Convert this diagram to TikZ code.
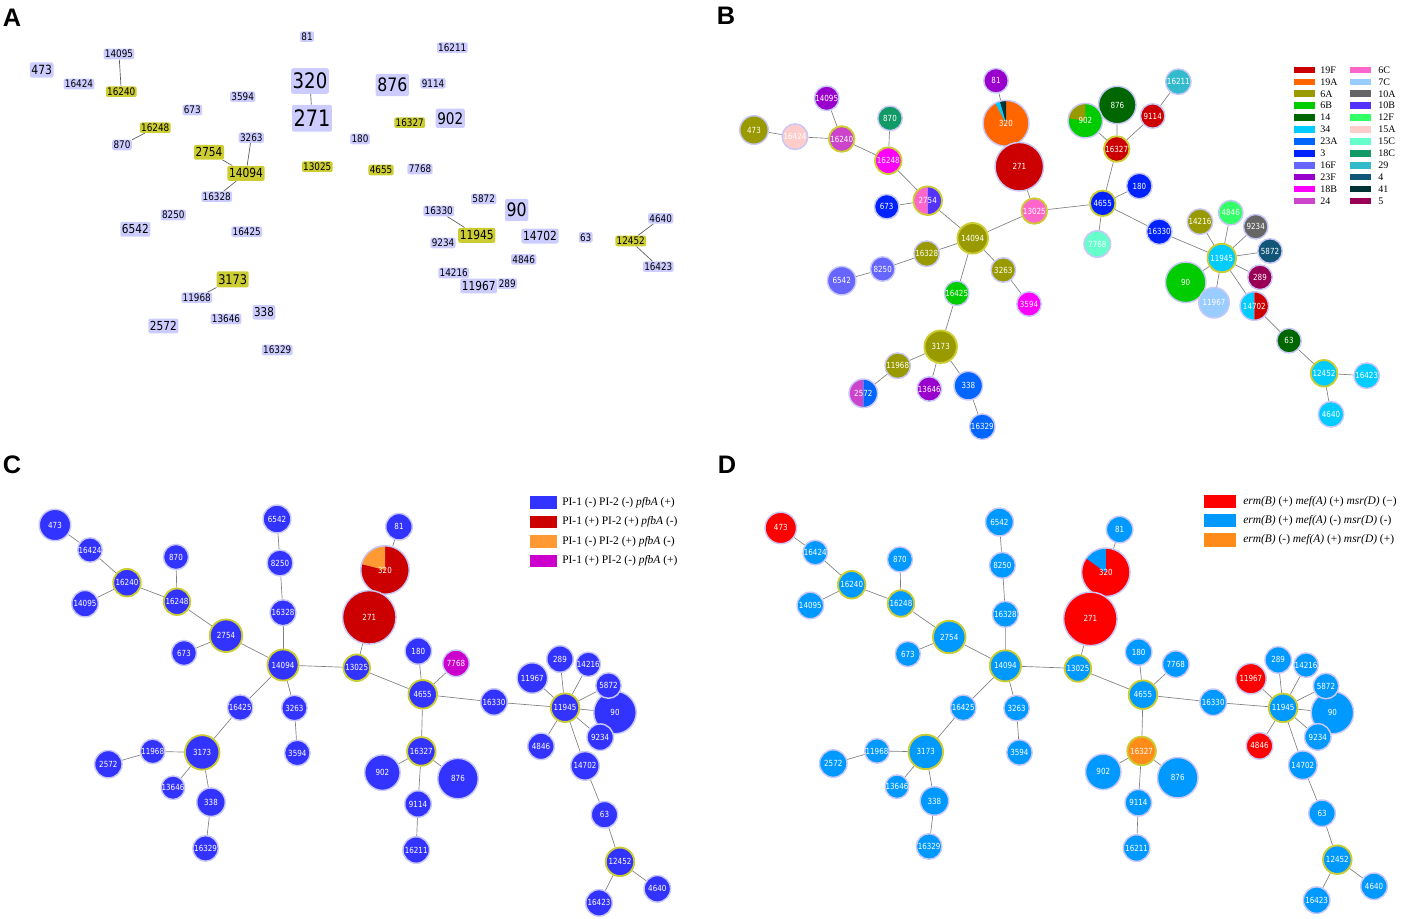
\documentclass[tikz,border=0pt]{standalone}
\usepackage{fontspec}
\setmainfont{Liberation Serif}
\newfontfamily\vfont[FakeStretch=0.85]{DejaVu Sans}
\newfontfamily\afont{Liberation Sans}
\pgfdeclarelayer{bg}
\pgfsetlayers{bg,main}
% panel A
\definecolor{lav}{HTML}{CCCCFF}
\definecolor{goldA}{HTML}{CCCC33}
\definecolor{ring}{HTML}{C8C8F8}
\definecolor{gring}{HTML}{CCCC33}
% serotypes
\definecolor{s19F}{HTML}{CC0000}
\definecolor{s19A}{HTML}{FF6600}
\definecolor{s6A}{HTML}{999900}
\definecolor{s6B}{HTML}{00CC00}
\definecolor{s14}{HTML}{006600}
\definecolor{s34}{HTML}{00CCFF}
\definecolor{s23A}{HTML}{0066FF}
\definecolor{s3}{HTML}{0022FF}
\definecolor{s16F}{HTML}{6666FF}
\definecolor{s23F}{HTML}{9900CC}
\definecolor{s18B}{HTML}{FF00FF}
\definecolor{s24}{HTML}{CC44CC}
\definecolor{s6C}{HTML}{FF66CC}
\definecolor{s7C}{HTML}{99CCFF}
\definecolor{s10A}{HTML}{666666}
\definecolor{s10B}{HTML}{5533FF}
\definecolor{s12F}{HTML}{33FF66}
\definecolor{s15A}{HTML}{FFCCCC}
\definecolor{s15C}{HTML}{66FFCC}
\definecolor{s18C}{HTML}{119966}
\definecolor{s29}{HTML}{33BBCC}
\definecolor{s4}{HTML}{115577}
\definecolor{s41}{HTML}{003333}
\definecolor{s5}{HTML}{990055}
% C and D
\definecolor{cBlue}{HTML}{3333FF}
\definecolor{cRed}{HTML}{CC0000}
\definecolor{cOrange}{HTML}{FF9933}
\definecolor{cMag}{HTML}{CC00CC}
\definecolor{dRed}{HTML}{FF0000}
\definecolor{dBlue}{HTML}{0099FF}
\definecolor{dOrange}{HTML}{FF8C1A}

\tikzset{
  lab/.style={fill=lav, rounded corners=1.5pt, inner xsep=1pt, inner ysep=1pt, text=black,
    font=\vfont\fontsize{7.8}{8}\selectfont},
  labb/.style={lab, inner xsep=1.2pt, inner ysep={#1*0.22pt}, font=\vfont\fontsize{#1}{#1}\selectfont},
  gl/.style={fill=goldA},
  edgeA/.style={draw=black!65, line width=0.5pt},
  bub/.style={circle, inner sep=0pt, minimum size={#1*1.5pt-1.1pt}, draw=ring, line width=1.1pt,
    text=white, font=\vfont\fontsize{6.3}{6.5}\selectfont},
  yr/.style={draw=gring, line width=1.4pt},
  edge/.style={draw=black!50, line width=0.5pt},
  panel/.style={font=\afont\bfseries\fontsize{19}{19}\selectfont, inner sep=0pt},
  swB/.style={minimum width=15.75pt, minimum height=5pt, inner sep=0pt},
  swC/.style={minimum width=20.25pt, minimum height=9.5pt, inner sep=0pt},
  swD/.style={minimum width=24pt, minimum height=10pt, inner sep=0pt},
  lgB/.style={anchor=west, inner sep=0pt, font=\fontsize{7.5}{8}\selectfont},
  lgC/.style={anchor=west, inner sep=0pt, font=\fontsize{8.6}{9}\selectfont},
}
\newcommand\pieslice[5]{\fill[#1] (#2) -- ++(#3:#5) arc[start angle=#3, end angle=#4, radius=#5] -- cycle;}

\newcommand\cdnet[8]{%
\node[bub=16.5,fill=#3] (#1473) at (55,525) {473};
\node[bub=13,fill=#2] (#116424) at (90,550) {16424};
\node[bub=14.5,fill=#2,yr] (#116240) at (127,582.7) {16240};
\node[bub=14,fill=#2] (#114095) at (85,603.7) {14095};
\node[bub=13.3,fill=#2] (#1870) at (176,557) {870};
\node[bub=14,fill=#2,yr] (#116248) at (177,601.7) {16248};
\node[bub=17,fill=#2,yr] (#12754) at (226,635.7) {2754};
\node[bub=13.3,fill=#2] (#1673) at (184,653) {673};
\node[bub=14.7,fill=#2] (#16542) at (277,519) {6542};
\node[bub=13.7,fill=#2] (#18250) at (280,563) {8250};
\node[bub=13.7,fill=#2] (#116328) at (283,612.7) {16328};
\node[bub=16.3,fill=#2,yr] (#114094) at (283,665) {14094};
\node[bub=14,fill=#2] (#181) at (399,526.7) {81};
\node[bub=25] (#1320) at (385,570) {320};
\node[bub=27.5,fill=#4] (#1271) at (369.3,617.3) {271};
\node[bub=14,fill=#2,yr] (#113025) at (356.7,667.7) {13025};
\node[bub=14,fill=#2] (#1180) at (418.3,651) {180};
\node[bub=14,fill=#5] (#17768) at (456,663.3) {7768};
\node[bub=15,fill=#2,yr] (#14655) at (422.7,694.3) {4655};
\node[bub=14,fill=#2] (#116330) at (494,702) {16330};
\node[bub=15,fill=#2,yr] (#111945) at (565,707.7) {11945};
\node[bub=16,fill=#6] (#111967) at (532.3,678) {11967};
\node[bub=14,fill=#2] (#1289) at (560,659) {289};
\node[bub=13,fill=#2] (#114216) at (588.3,664.3) {14216};
\node[bub=22,fill=#2] (#190) at (615,712.5) {90};
\node[bub=13.5,fill=#2] (#15872) at (608.5,685.5) {5872};
\node[bub=14,fill=#2] (#19234) at (600.2,737.2) {9234};
\node[bub=14,fill=#7] (#14846) at (541,746.3) {4846};
\node[bub=15,fill=#2] (#114702) at (585,765.9) {14702};
\node[bub=14,fill=#2] (#163) at (604.5,814.7) {63};
\node[bub=15,fill=#2,yr] (#112452) at (620,861.8) {12452};
\node[bub=14,fill=#2] (#14640) at (657.3,888.8) {4640};
\node[bub=14,fill=#2] (#116423) at (599,902.9) {16423};
\node[bub=13.5,fill=#2] (#116425) at (240.2,707.6) {16425};
\node[bub=13.5,fill=#2] (#13263) at (294.4,708) {3263};
\node[bub=13.5,fill=#2] (#13594) at (297.3,753) {3594};
\node[bub=18,fill=#2,yr] (#13173) at (202.2,752.4) {3173};
\node[bub=13,fill=#2] (#111968) at (152.7,751.4) {11968};
\node[bub=14.5,fill=#2] (#12572) at (108.3,764.2) {2572};
\node[bub=12.5,fill=#2] (#113646) at (173,787.7) {13646};
\node[bub=15,fill=#2] (#1338) at (211,802.2) {338};
\node[bub=13.5,fill=#2] (#116329) at (205.6,848.4) {16329};
\node[bub=15,fill=#8,yr] (#116327) at (421.3,751.4) {16327};
\node[bub=18.5,fill=#2] (#1902) at (382.4,772.6) {902};
\node[bub=21,fill=#2] (#1876) at (458,778.6) {876};
\node[bub=14,fill=#2] (#19114) at (418,804) {9114};
\node[bub=14,fill=#2] (#116211) at (416.2,850) {16211};
\begin{pgfonlayer}{bg}
\foreach \a/\b in {473/16424,16424/16240,16240/14095,16240/16248,16248/870,16248/2754,2754/673,
  2754/14094,14094/16328,16328/8250,8250/6542,14094/13025,13025/271,271/320,320/81,13025/4655,
  4655/180,4655/7768,4655/16330,16330/11945,4655/16327,16327/902,16327/876,16327/9114,9114/16211,
  14094/16425,16425/3173,3173/11968,11968/2572,3173/13646,3173/338,338/16329,14094/3263,3263/3594,
  11945/11967,11945/289,11945/14216,11945/5872,11945/90,11945/9234,11945/4846,11945/14702,
  14702/63,63/12452,12452/4640,12452/16423}
  {\draw[edge] (#1\a) -- (#1\b);}
\end{pgfonlayer}
}

\begin{document}
\begin{tikzpicture}[x=0.75pt,y=-0.75pt]
\useasboundingbox (0,0) rectangle (1401,918);

% ---------------- panel letters
\node[panel] (LA) at (12,18) {A};
\node[panel] (LB) at (726,16) {B};
\node[panel] (LC) at (12,465) {C};
\node[panel] (LD) at (727,465) {D};

% ---------------- panel A
\node[lab] (a14095) at (119,54) {14095};
\node[labb=9.5] (a473) at (41.7,70) {473};
\node[lab] (a16424) at (79,84) {16424};
\node[lab,gl] (a16240) at (121.3,91.7) {16240};
\node[lab] (a81) at (307,36.7) {81};
\node[labb=16] (a320) at (310,81) {320};
\node[labb=17] (a271) at (312,118.3) {271};
\node[lab] (a3594) at (242.7,96.7) {3594};
\node[lab] (a673) at (192.3,110) {673};
\node[lab,gl] (a16248) at (155.3,127.7) {16248};
\node[lab] (a870) at (122,145) {870};
\node[lab] (a3263) at (251.3,137.7) {3263};
\node[labb=9.3,gl] (a2754) at (209,152.3) {2754};
\node[labb=9.4,gl] (a14094) at (246,173.3) {14094};
\node[lab,gl] (a13025) at (317.3,166.7) {13025};
\node[lab] (a16328) at (216.7,196.7) {16328};
\node[lab] (a8250) at (173.3,215) {8250};
\node[labb=9.3] (a6542) at (135.3,229.3) {6542};
\node[lab] (a16425) at (246.7,231.7) {16425};
\node[labb=10,gl] (a3173) at (232.7,279.3) {3173};
\node[lab] (a11968) at (196.7,297.7) {11968};
\node[lab] (a13646) at (226,319) {13646};
\node[labb=9.1] (a338) at (264,312.3) {338};
\node[labb=9.3] (a2572) at (163.3,326) {2572};
\node[lab] (a16329) at (277.3,350) {16329};
\node[lab] (a16211) at (452.3,47.7) {16211};
\node[labb=13.9] (a876) at (392.3,85) {876};
\node[lab] (a9114) at (433,83.3) {9114};
\node[lab,gl] (a16327) at (409.7,122.7) {16327};
\node[labb=12] (a902) at (450.3,118.3) {902};
\node[lab] (a180) at (360,139) {180};
\node[lab,gl] (a4655) at (381,170) {4655};
\node[lab] (a7768) at (420,169) {7768};
\node[lab] (a5872) at (483.7,199) {5872};
\node[labb=13.9] (a90) at (516.7,210) {90};
\node[lab] (a16330) at (438.7,211) {16330};
\node[labb=9.4,gl] (a11945) at (476.7,235.3) {11945};
\node[lab] (a9234) at (443,243) {9234};
\node[labb=9.4] (a14702) at (540,236) {14702};
\node[lab] (a63) at (585.7,237.3) {63};
\node[lab] (a4846) at (523.7,259.3) {4846};
\node[lab] (a14216) at (453.7,273) {14216};
\node[labb=9.3] (a11967) at (478.7,286) {11967};
\node[lab] (a289) at (507.3,283.7) {289};
\node[lab] (a4640) at (660.7,218.3) {4640};
\node[lab,gl] (a12452) at (630.7,241) {12452};
\node[lab] (a16423) at (658.3,266.7) {16423};
\begin{pgfonlayer}{bg}
\foreach \a/\b in {14095/16240,16248/870,2754/14094,14094/3263,14094/16328,320/271,3173/11968,
  16330/11945,12452/4640,12452/16423}
  {\draw[edgeA] (a\a) -- (a\b);}
\end{pgfonlayer}

% ---------------- panel B
\node[bub=15,fill=s6A] (b473) at (754,130) {473};
\node[bub=13.5,fill=s15A] (b16424) at (795,136.7) {16424};
\node[bub=13,fill=s23F] (b14095) at (826.7,98.3) {14095};
\node[bub=13.5,fill=s24,yr] (b16240) at (841.7,139) {16240};
\node[bub=13,fill=s18C] (b870) at (890,118.3) {870};
\node[bub=14,fill=s18B,yr] (b16248) at (888.3,160.7) {16248};
\pieslice{s6C}{927.7,200.7}{90}{270}{10.7pt}
\pieslice{s10B}{927.7,200.7}{-90}{90}{10.7pt}
\node[bub=15,yr] (b2754) at (927.7,200.7) {2754};
\node[bub=13,fill=s3] (b673) at (886.7,206.7) {673};
\node[bub=16,fill=s6A,yr] (b14094) at (972.7,238.3) {14094};
\node[bub=13.5,fill=s6A] (b16328) at (926.7,253.7) {16328};
\node[bub=13,fill=s16F] (b8250) at (882.7,269) {8250};
\node[bub=15,fill=s16F] (b6542) at (841.7,280.7) {6542};
\node[bub=13,fill=s6A] (b3263) at (1003.3,270) {3263};
\node[bub=13,fill=s18B] (b3594) at (1029,304) {3594};
\node[bub=13,fill=s6B] (b16425) at (956.7,293.3) {16425};
\node[bub=17,fill=s6A,yr] (b3173) at (940.7,346.7) {3173};
\node[bub=13.5,fill=s6A] (b11968) at (897.7,365.7) {11968};
\pieslice{s24}{863.3,393.3}{90}{270}{10.7pt}
\pieslice{s23A}{863.3,393.3}{-90}{90}{10.7pt}
\node[bub=15] (b2572) at (863.3,393.3) {2572};
\node[bub=13,fill=s23F] (b13646) at (929.3,389) {13646};
\node[bub=15,fill=s23A] (b338) at (968.3,385.7) {338};
\node[bub=13.5,fill=s23A] (b16329) at (982.3,426.7) {16329};
\node[bub=13,fill=s23F] (b81) at (996,80.7) {81};
\fill[s19A] (1006,123.3) circle[radius=17.2pt];
\pieslice{s41}{1006,123.3}{90}{106}{17.2pt}
\pieslice{s34}{1006,123.3}{106}{118}{17.2pt}
\node[bub=23.7] (b320) at (1006,123.3) {320};
\node[bub=25,fill=s19F] (b271) at (1019.3,166.7) {271};
\node[bub=13.5,fill=s6C,yr] (b13025) at (1034.3,211) {13025};
\node[bub=19.5,fill=s14] (b876) at (1117.3,105) {876};
\fill[s6B] (1085.3,120.7) circle[radius=12.95pt];
\pieslice{s6A}{1085.3,120.7}{90}{172}{12.95pt}
\node[bub=18] (b902) at (1085.3,120.7) {902};
\node[bub=13,fill=s19F] (b9114) at (1152.7,116) {9114};
\node[bub=13.5,fill=s29] (b16211) at (1178.3,81.7) {16211};
\node[bub=13.5,fill=s19F,yr] (b16327) at (1116.7,149) {16327};
\node[bub=13.5,fill=s3] (b180) at (1139.3,186) {180};
\node[bub=13.5,fill=s3,yr] (b4655) at (1102.7,203.3) {4655};
\node[bub=14,fill=s15C] (b7768) at (1097.3,244) {7768};
\node[bub=13.5,fill=s3] (b16330) at (1159.3,231.7) {16330};
\node[bub=13.5,fill=s6A] (b14216) at (1200,221.7) {14216};
\node[bub=13,fill=s12F] (b4846) at (1230.7,212.7) {4846};
\node[bub=13,fill=s10A] (b9234) at (1255.7,226.7) {9234};
\node[bub=13,fill=s4] (b5872) at (1270,251) {5872};
\node[bub=15,fill=s34,yr] (b11945) at (1221.7,258) {11945};
\node[bub=13,fill=s5] (b289) at (1260,277.3) {289};
\node[bub=21,fill=s6B] (b90) at (1185.7,282.3) {90};
\node[bub=16,fill=s7C] (b11967) at (1214,302.7) {11967};
\pieslice{s34}{1254.3,306}{90}{270}{10.7pt}
\pieslice{s19F}{1254.3,306}{-90}{90}{10.7pt}
\node[bub=15] (b14702) at (1254.3,306) {14702};
\node[bub=13,fill=s14] (b63) at (1289,340.7) {63};
\node[bub=14,fill=s34,yr] (b12452) at (1324,373.3) {12452};
\node[bub=13.5,fill=s34] (b16423) at (1366.7,375.7) {16423};
\node[bub=13.5,fill=s34] (b4640) at (1331,414.3) {4640};
\begin{pgfonlayer}{bg}
\foreach \a/\b in {473/16424,16424/16240,14095/16240,16240/16248,870/16248,16248/2754,673/2754,
  2754/14094,14094/16328,16328/8250,8250/6542,14094/3263,3263/3594,14094/16425,16425/3173,
  3173/11968,11968/2572,3173/13646,3173/338,338/16329,14094/13025,13025/271,271/320,320/81,
  13025/4655,4655/16327,16327/902,16327/876,16327/9114,9114/16211,4655/180,4655/7768,4655/16330,
  16330/11945,11945/14216,11945/4846,11945/9234,11945/5872,11945/289,11945/90,11945/11967,
  11945/14702,14702/63,63/12452,12452/16423,12452/4640}
  {\draw[edge] (b\a) -- (b\b);}
\end{pgfonlayer}
% legend B
\foreach \c/\t [count=\i from 0] in {s19F/19F,s19A/19A,s6A/6A,s6B/6B,s14/14,s34/34,s23A/23A,
  s3/3,s16F/16F,s23F/23F,s18B/18B,s24/24}
  {\node[swB,fill=\c] (lbs\i) at (1304.5,{70+11.9*\i}) {};
   \node[lgB] (lbt\i) at (1320,{70+11.9*\i}) {\t};}
\foreach \c/\t [count=\i from 0] in {s6C/6C,s7C/7C,s10A/10A,s10B/10B,s12F/12F,s15A/15A,s15C/15C,
  s18C/18C,s29/29,s4/4,s41/41,s5/5}
  {\node[swB,fill=\c] (lbu\i) at (1360.5,{70+11.9*\i}) {};
   \node[lgB] (lbv\i) at (1378,{70+11.9*\i}) {\t};}

% ---------------- panel C
\fill[cRed] (385,570) circle[radius=18.2pt];
\pieslice{cOrange}{385,570}{90}{166}{18.2pt}
\cdnet{c}{cBlue}{cBlue}{cRed}{cMag}{cBlue}{cBlue}{cBlue}
\node[swC,fill=cBlue] (lc1) at (543.5,502.5) {};
\node[swC,fill=cRed] (lc2) at (543.5,522) {};
\node[swC,fill=cOrange] (lc3) at (543.5,541.5) {};
\node[swC,fill=cMag] (lc4) at (543.5,561) {};
\node[lgC] (lct1) at (562,502.5) {PI-1 (-) PI-2 (-) \textit{pfbA} (+)};
\node[lgC] (lct2) at (562,522) {PI-1 (+) PI-2 (+) \textit{pfbA} (-)};
\node[lgC] (lct3) at (562,541.5) {PI-1 (-) PI-2 (+) \textit{pfbA} (-)};
\node[lgC] (lct4) at (562,561) {PI-1 (+) PI-2 (-) \textit{pfbA} (+)};

% ---------------- panel D
\begin{scope}[shift={(726.6,10.8)},scale=0.985]
\fill[dRed] (385,570) circle[radius=18.2pt];
\pieslice{dBlue}{385,570}{90}{145}{18.2pt}
\cdnet{d}{dBlue}{dRed}{dRed}{dBlue}{dRed}{dRed}{dOrange}
\end{scope}
\node[swD,fill=dRed] (ld1) at (1220,501.7) {};
\node[swD,fill=dBlue] (ld2) at (1220,520.7) {};
\node[swD,fill=dOrange] (ld3) at (1220,540) {};
\node[lgC] (ldt1) at (1243,501.7) {\textit{erm(B)} (+) \textit{mef(A)} (+) \textit{msr(D)} (−)};
\node[lgC] (ldt2) at (1243,520.7) {\textit{erm(B)} (+) \textit{mef(A)} (-) \textit{msr(D)} (-)};
\node[lgC] (ldt3) at (1243,540) {\textit{erm(B)} (-) \textit{mef(A)} (+) \textit{msr(D)} (+)};
\end{tikzpicture}
\end{document}
